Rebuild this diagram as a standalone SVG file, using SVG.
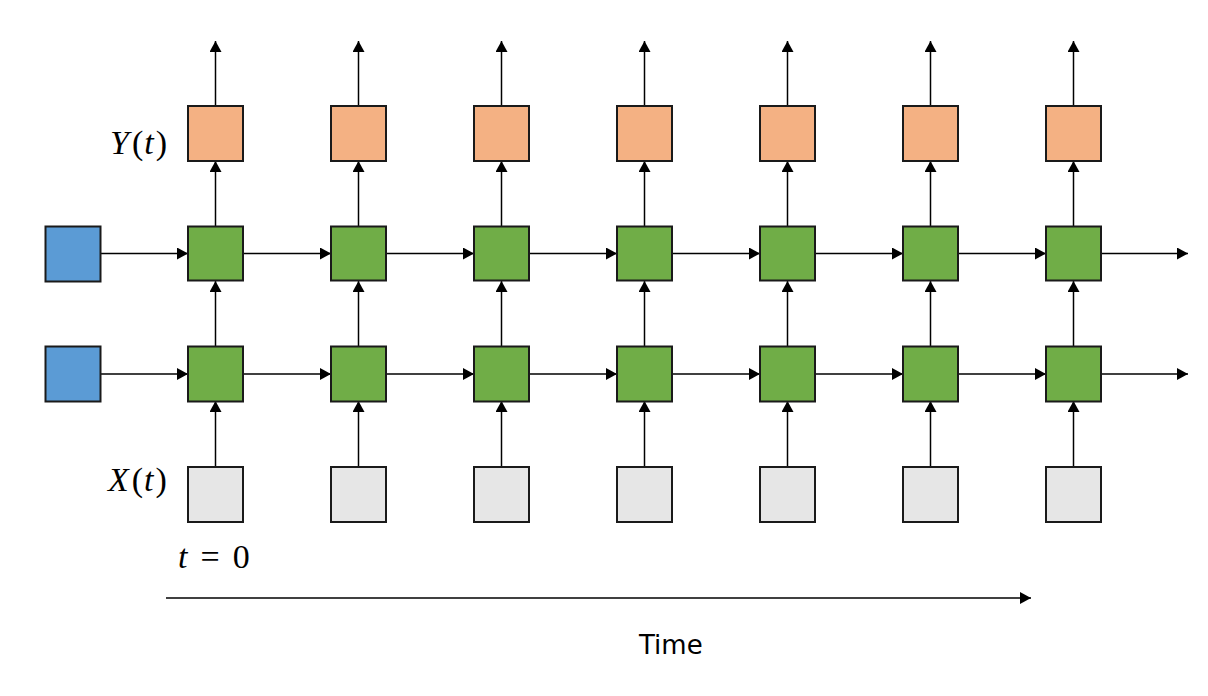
<svg xmlns="http://www.w3.org/2000/svg" width="1208" height="696" viewBox="0 0 1208 696">
<style>
.box{stroke:#1a1a1a;stroke-width:2}
.o{fill:#F4B183}.g{fill:#70AD47}.b{fill:#5B9BD5}.x{fill:#E6E6E6}
.c line{stroke:#000;stroke-width:1.5;marker-end:url(#ah)}
.m{font-family:"Liberation Serif",serif;font-size:34px;fill:#000}
.i{font-style:italic}
.lbl{font-family:"DejaVu Sans",sans-serif;font-size:26px;fill:#000}
</style>
<defs>
<marker id="ah" viewBox="0 0 11 12" refX="11" refY="6" markerWidth="11" markerHeight="12" markerUnits="userSpaceOnUse" orient="auto">
<path d="M0,0 L11,6 L0,12 z" fill="#000"/>
</marker>
</defs>
<rect width="1208" height="696" fill="#fff"/>
<g class="c" id="connectors">
<line x1="215.5" y1="105" x2="215.5" y2="41"/>
<line x1="358.5" y1="105" x2="358.5" y2="41"/>
<line x1="501.5" y1="105" x2="501.5" y2="41"/>
<line x1="644.5" y1="105" x2="644.5" y2="41"/>
<line x1="787.5" y1="105" x2="787.5" y2="41"/>
<line x1="930.5" y1="105" x2="930.5" y2="41"/>
<line x1="1073.5" y1="105" x2="1073.5" y2="41"/>
<line x1="215.5" y1="226" x2="215.5" y2="161"/>
<line x1="358.5" y1="226" x2="358.5" y2="161"/>
<line x1="501.5" y1="226" x2="501.5" y2="161"/>
<line x1="644.5" y1="226" x2="644.5" y2="161"/>
<line x1="787.5" y1="226" x2="787.5" y2="161"/>
<line x1="930.5" y1="226" x2="930.5" y2="161"/>
<line x1="1073.5" y1="226" x2="1073.5" y2="161"/>
<line x1="215.5" y1="346" x2="215.5" y2="281"/>
<line x1="358.5" y1="346" x2="358.5" y2="281"/>
<line x1="501.5" y1="346" x2="501.5" y2="281"/>
<line x1="644.5" y1="346" x2="644.5" y2="281"/>
<line x1="787.5" y1="346" x2="787.5" y2="281"/>
<line x1="930.5" y1="346" x2="930.5" y2="281"/>
<line x1="1073.5" y1="346" x2="1073.5" y2="281"/>
<line x1="215.5" y1="467" x2="215.5" y2="401"/>
<line x1="358.5" y1="467" x2="358.5" y2="401"/>
<line x1="501.5" y1="467" x2="501.5" y2="401"/>
<line x1="644.5" y1="467" x2="644.5" y2="401"/>
<line x1="787.5" y1="467" x2="787.5" y2="401"/>
<line x1="930.5" y1="467" x2="930.5" y2="401"/>
<line x1="1073.5" y1="467" x2="1073.5" y2="401"/>
<line x1="100" y1="253.5" x2="188" y2="253.5"/>
<line x1="243" y1="253.5" x2="331" y2="253.5"/>
<line x1="386" y1="253.5" x2="474" y2="253.5"/>
<line x1="529" y1="253.5" x2="617" y2="253.5"/>
<line x1="672" y1="253.5" x2="760" y2="253.5"/>
<line x1="815" y1="253.5" x2="903" y2="253.5"/>
<line x1="958" y1="253.5" x2="1046" y2="253.5"/>
<line x1="1101" y1="253.5" x2="1188" y2="253.5"/>
<line x1="100" y1="374" x2="188" y2="374"/>
<line x1="243" y1="374" x2="331" y2="374"/>
<line x1="386" y1="374" x2="474" y2="374"/>
<line x1="529" y1="374" x2="617" y2="374"/>
<line x1="672" y1="374" x2="760" y2="374"/>
<line x1="815" y1="374" x2="903" y2="374"/>
<line x1="958" y1="374" x2="1046" y2="374"/>
<line x1="1101" y1="374" x2="1188" y2="374"/>
<line x1="166" y1="598" x2="1031" y2="598"/>
</g>
<g id="init1"><rect class="box b" x="45.5" y="226.5" width="55" height="55"/></g>
<g id="init2"><rect class="box b" x="45.5" y="346.5" width="55" height="55"/></g>
<g id="outputs">
<rect class="box o" x="188" y="106" width="55" height="55"/>
<rect class="box o" x="331" y="106" width="55" height="55"/>
<rect class="box o" x="474" y="106" width="55" height="55"/>
<rect class="box o" x="617" y="106" width="55" height="55"/>
<rect class="box o" x="760" y="106" width="55" height="55"/>
<rect class="box o" x="903" y="106" width="55" height="55"/>
<rect class="box o" x="1046" y="106" width="55" height="55"/>
</g>
<g id="hidden1">
<rect class="box g" x="188" y="226.5" width="55" height="54"/>
<rect class="box g" x="331" y="226.5" width="55" height="54"/>
<rect class="box g" x="474" y="226.5" width="55" height="54"/>
<rect class="box g" x="617" y="226.5" width="55" height="54"/>
<rect class="box g" x="760" y="226.5" width="55" height="54"/>
<rect class="box g" x="903" y="226.5" width="55" height="54"/>
<rect class="box g" x="1046" y="226.5" width="55" height="54"/>
</g>
<g id="hidden2">
<rect class="box g" x="188" y="346.5" width="55" height="55"/>
<rect class="box g" x="331" y="346.5" width="55" height="55"/>
<rect class="box g" x="474" y="346.5" width="55" height="55"/>
<rect class="box g" x="617" y="346.5" width="55" height="55"/>
<rect class="box g" x="760" y="346.5" width="55" height="55"/>
<rect class="box g" x="903" y="346.5" width="55" height="55"/>
<rect class="box g" x="1046" y="346.5" width="55" height="55"/>
</g>
<g id="inputs">
<rect class="box x" x="188" y="467" width="55" height="55"/>
<rect class="box x" x="331" y="467" width="55" height="55"/>
<rect class="box x" x="474" y="467" width="55" height="55"/>
<rect class="box x" x="617" y="467" width="55" height="55"/>
<rect class="box x" x="760" y="467" width="55" height="55"/>
<rect class="box x" x="903" y="467" width="55" height="55"/>
<rect class="box x" x="1046" y="467" width="55" height="55"/>
</g>
<g id="labels">
<text class="m" x="110" y="154"><tspan class="i">Y</tspan><tspan dx="3">(</tspan><tspan class="i" dx="1">t</tspan><tspan dx="2">)</tspan></text>
<text class="m" x="108" y="491"><tspan class="i">X</tspan><tspan dx="3">(</tspan><tspan class="i" dx="1">t</tspan><tspan dx="2">)</tspan></text>
<text class="m" x="178" y="568"><tspan class="i">t</tspan><tspan dx="13">=</tspan><tspan dx="13">0</tspan></text>
<text class="lbl" x="639" y="654">Time</text>
</g>
</svg>
